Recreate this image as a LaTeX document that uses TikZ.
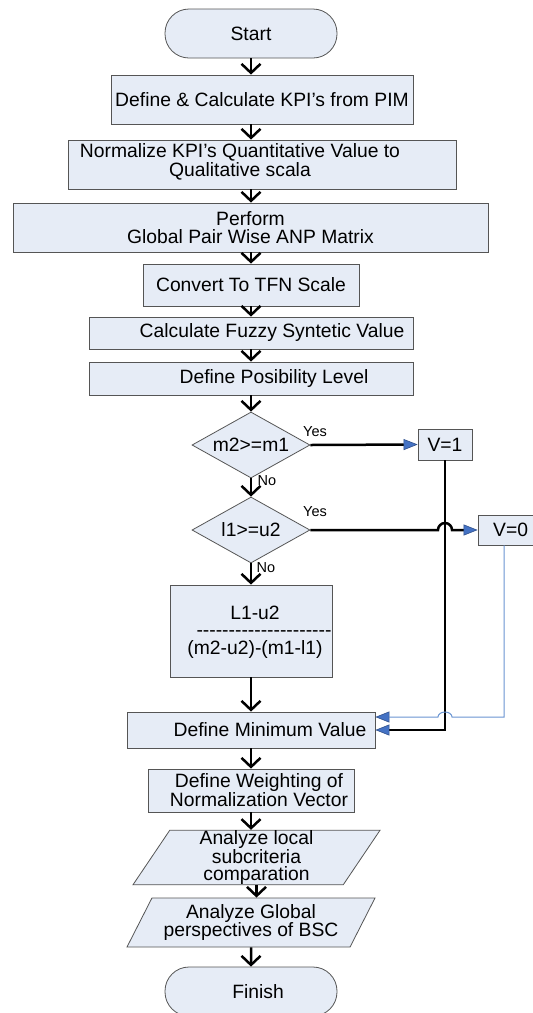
\documentclass[tikz,border=0pt]{standalone}
\usepackage{fontspec}
\newfontfamily\arial{Liberation Sans}
\usetikzlibrary{arrows.meta,shapes.geometric,calc}
\definecolor{boxfill}{HTML}{E6ECF6}
\definecolor{boxedge}{HTML}{555555}
\definecolor{tipblue}{HTML}{4472C4}
\definecolor{tipedge}{HTML}{2F4F8A}
\definecolor{linkblue}{HTML}{6A95D2}
\tikzset{
  base/.style={font=\arial\fontsize{19.3}{17.5}\selectfont},
  box/.style={base, draw=boxedge, fill=boxfill, line width=0.8pt, inner sep=0pt, align=center},
  term/.style={box, rounded corners=24pt},
  decision/.style={box, diamond, aspect=1.79, minimum width=118pt, minimum height=66pt},
  ioshape/.style={box, trapezium, trapezium left angle=56, trapezium right angle=124,
    trapezium stretches body, minimum height=49pt},
  txt/.style={base, inner sep=0pt, align=center},
  small/.style={font=\arial\fontsize{14.5}{16}\selectfont, inner sep=0pt},
  flow/.style={line width=2.5pt, -{Straight Barb[length=9pt,width=19pt,line width=2.5pt]}},
  yesline/.style={line width=2.5pt, -{Triangle[length=14pt,width=11pt,line width=0.6pt,color=tipedge,fill=tipblue]}},
  bluelink/.style={line width=1pt, draw=linkblue, -{Triangle[length=14pt,width=11pt,line width=0.6pt,color=tipedge,fill=tipblue]}},
}
\begin{document}
\begin{tikzpicture}[x=1pt,y=-1pt]
\useasboundingbox[fill=white] (0,0) rectangle (533,1013);

% main column
\node[term, minimum width=172pt, minimum height=49pt] (start) at (251,33.5) {Start};
\node[box, minimum width=302pt, minimum height=49pt] (b1) at (262,99.5) {Define \& Calculate KPI’s from PIM};
\node[box, minimum width=388pt, minimum height=49pt] (b2) at (262,164.5) {};
\node[txt] (t2) at (240,162) {Normalize KPI’s Quantitative Value to\\Qualitative scala};
\node[box, minimum width=475pt, minimum height=49pt] (b3) at (250.5,227.5) {Perform\\Global Pair Wise ANP Matrix};
\node[box, minimum width=216pt, minimum height=42pt] (b4) at (251,285) {Convert To TFN Scale};
\node[box, minimum width=324pt, minimum height=32pt] (b5) at (251,333) {};
\node[txt] (t5) at (272,333) {Calculate Fuzzy Syntetic Value};
\node[box, minimum width=324pt, minimum height=33pt] (b6) at (251,378.5) {};
\node[txt] (t6) at (274,378.5) {Define Posibility Level};

\node[decision] (d1) at (251,445) {m2>=m1};
\node[box, minimum width=54pt, minimum height=31pt] (v1) at (445,444.5) {V=1};
\node[decision] (d2) at (251,530) {l1>=u2};
\node[box, minimum width=64pt, minimum height=30pt] (v0) at (510,530) {};
\node[txt, anchor=west] (t0) at (493,530) {V=0};

\node[box, minimum width=162pt, minimum height=92pt] (b7) at (251,631) {};
\node[txt] (t7) at (255,632) {L1-u2\\\hspace*{18pt}-{}-{}-{}-{}-{}-{}-{}-{}-{}-{}-{}-{}-{}-{}-{}-{}-{}-{}-{}-{}-\\(m2-u2)-(m1-l1)};
\node[box, minimum width=248pt, minimum height=36pt] (b8) at (251,730) {};
\node[txt] (t8) at (270,730) {Define Minimum Value};
\node[box, minimum width=206pt, minimum height=43pt] (b9) at (251,790.5) {};
\node[txt] (t9) at (259,790.5) {Define Weighting of\\Normalization Vector};
\node[ioshape, minimum width=247pt] (p1) at (256.5,857.5) {Analyze local\\subcriteria\\comparation};
\node[ioshape, minimum width=248pt] (p2) at (251,922.5) {Analyze Global\\perspectives of BSC};
\node[term, minimum width=172pt, minimum height=49pt] (fin) at (251,991.5) {};
\node[txt] (tf) at (258,991.5) {Finish};

% branch labels
\node[small] (y1) at (315,432) {Yes};
\node[small] (n1) at (267,481) {No};
\node[small] (y2) at (315,512) {Yes};
\node[small] (n2) at (266,568) {No};

% straight flow
\draw[flow] (start.south) -- (start.south |- b1.north);
\draw[flow] (b1.south -| d1) -- (b2.north -| d1);
\draw[flow] (b2.south -| d1) -- (b3.north -| d1);
\draw[flow] (b3.south -| d1) -- (b4.north -| d1);
\draw[flow] (b4.south) -- (b5.north);
\draw[flow] (b5.south) -- (b6.north);
\draw[flow] (b6.south) -- (d1.north);
\draw[flow] (d1.south) -- (d2.north);
\draw[flow] (d2.south) -- (b7.north);
\draw[flow] (b7.south) -- (b8.north);
\draw[flow] (b8.south) -- (b9.north);
\draw[flow] (b9.south) -- (b9.south |- p1.north);
\draw[flow] (p1.south) -- (p1.south |- p2.north);
\draw[flow] (p2.south) -- (fin.north);

% yes branches
\draw[yesline] (d1.east) -- (v1.west);
\coordinate (cross1) at (d2.east -| v1.south);
\draw[yesline] (d2.east) -- ([xshift=-7pt]cross1)
  arc[start angle=180, end angle=0, radius=7pt] -- (v0.west);

% returns to the minimum value step
\draw[yesline] (v1.south) |- (b8.east);
\coordinate (cross2) at ([yshift=13pt]b8.east -| v1.south);
\draw[bluelink] ([xshift=-6pt]v0.south) |- ([xshift=7pt]cross2)
  arc[start angle=0, end angle=180, x radius=7pt, y radius=5pt] -- ([yshift=13pt]b8.east);
\end{tikzpicture}
\end{document}
